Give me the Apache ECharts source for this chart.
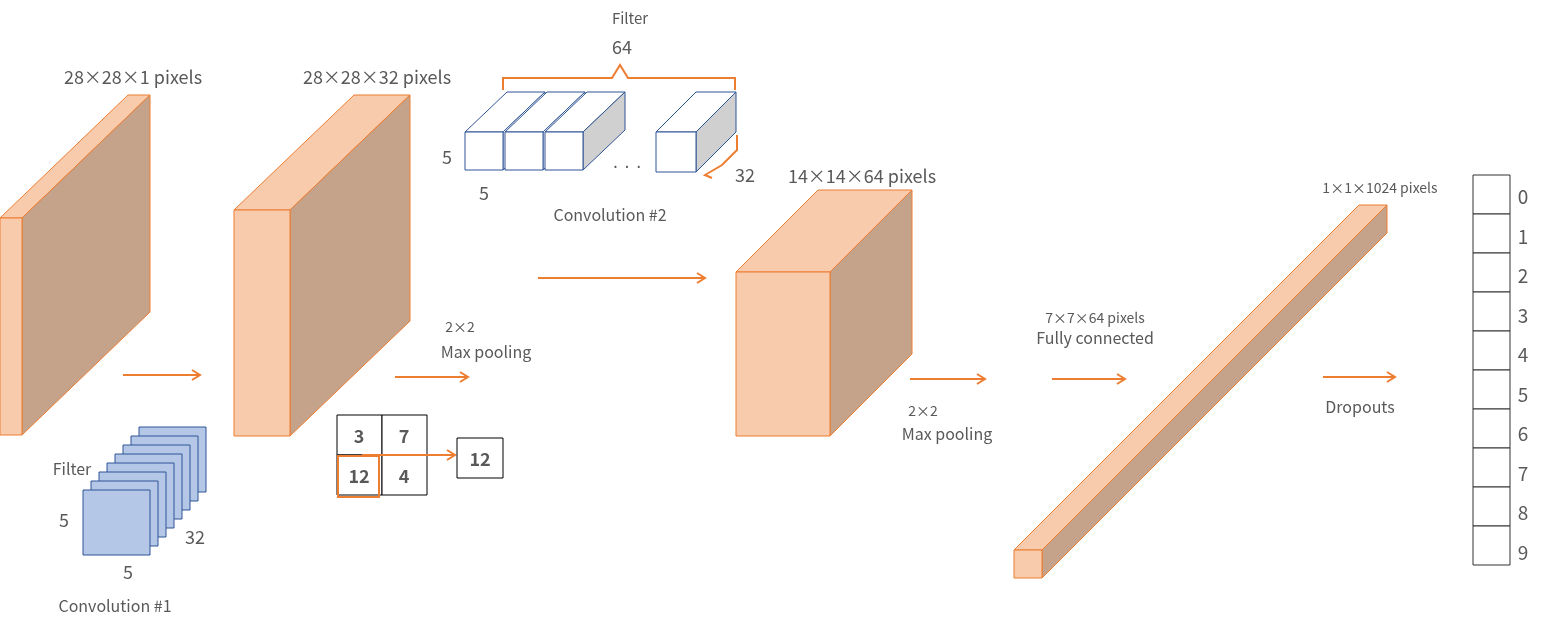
<!DOCTYPE html>
<html>
<head>
<meta charset="utf-8">
<script src="https://cdn.jsdelivr.net/npm/echarts@6/dist/echarts.min.js"></script>
<style>html,body{margin:0;background:#fff}#main{width:1548px;height:629px}</style>
</head>
<body>
<div id="main"></div>
<script>
// data
var outputDigits = ['0','1','2','3','4','5','6','7','8','9'];
var poolValues = ['3','7','12','4'];
var poolMax = '12';
var layerLabels = ['28×28×1 pixels','28×28×32 pixels','14×14×64 pixels','1×1×1024 pixels'];
var filterCount1 = 8;

var ORANGE = '#ed7d31', FRONT = '#f8cbad', SIDE = '#c5a38b', TXT = '#595959';
var FONT = '"Noto Sans CJK KR", "Noto Sans", sans-serif';
var els = [];

function box(x, y, w, h, dx, dy) {
    els.push({type:'polygon', shape:{points:[[x,y],[x+dx,y+dy],[x+w+dx,y+dy],[x+w,y]]}, style:{fill:FRONT, stroke:ORANGE, lineWidth:1}});
    els.push({type:'polygon', shape:{points:[[x+w,y],[x+w+dx,y+dy],[x+w+dx,y+h+dy],[x+w,y+h]]}, style:{fill:SIDE, stroke:ORANGE, lineWidth:1}});
    els.push({type:'rect', shape:{x:x, y:y, width:w, height:h}, style:{fill:FRONT, stroke:ORANGE, lineWidth:1}});
}
function arrow(x1, y, x2) {
    els.push({type:'line', shape:{x1:x1, y1:y, x2:x2, y2:y}, style:{stroke:ORANGE, lineWidth:2}});
    els.push({type:'polyline', shape:{points:[[x2-8,y-5],[x2,y],[x2-8,y+5]]}, style:{stroke:ORANGE, lineWidth:2, fill:null}});
}
function text(s, x, y, size, opt) {
    els.push({type:'text', x:x, y:y, style:Object.assign({text:s, fill:TXT, font:(size||17)+'px '+FONT, align:'center', verticalAlign:'middle'}, opt||{})});
}
function cube(x, y, s, dx, dy, gray) {
    els.push({type:'polygon', shape:{points:[[x,y],[x+dx,y+dy],[x+s+dx,y+dy],[x+s,y]]}, style:{fill:'#fff', stroke:'#2f5597', lineWidth:1}});
    els.push({type:'polygon', shape:{points:[[x+s,y],[x+s+dx,y+dy],[x+s+dx,y+s+dy],[x+s,y+s]]}, style:{fill:gray?'#d0d0d0':'#fff', stroke:'#2f5597', lineWidth:1}});
    els.push({type:'rect', shape:{x:x, y:y, width:s, height:s}, style:{fill:'#fff', stroke:'#2f5597', lineWidth:1}});
}

// layers
box(0, 218, 22, 217, 128, -123);
box(234, 210, 56, 226, 120, -115);
box(736, 272, 94, 164, 82, -82);
box(1014, 550, 28, 28, 345, -345);
text(layerLabels[0], 133, 77, 18);
text(layerLabels[1], 377, 77, 18);
text(layerLabels[2], 862, 176, 18);
text(layerLabels[3], 1380, 188, 14);

// filter stack #1
for (var i = filterCount1 - 1; i >= 0; i--) {
    els.push({type:'rect', shape:{x:83 + i*8, y:490 - i*9, width:67, height:65}, style:{fill:'#b4c7e7', stroke:'#2f5597', lineWidth:1}});
}
text('Filter', 72, 469, 16);
text('5', 64, 520, 18);
text('5', 128, 572, 18);
text('32', 195, 537, 18);
text('Convolution #1', 115, 606, 16);

// filter cubes #2
cube(465, 132, 38, 42, -40, false);
cube(505, 132, 38, 42, -40, false);
cube(545, 132, 38, 42, -40, true);
cube(656, 132, 40, 40, -40, true);
text('.  .  .', 627, 162, 16);
els.push({type:'polyline', shape:{points:[[503,90],[503,78],[612,78],[620,65],[628,78],[735,78],[735,90]]}, style:{stroke:ORANGE, lineWidth:2, fill:null}});
els.push({type:'polyline', shape:{points:[[737,135],[737,150],[722,165],[705,175],[712,178]]}, style:{stroke:ORANGE, lineWidth:2, fill:null}});
text('Filter', 630, 18, 15);
text('64', 622, 47, 18);
text('5', 447, 157, 18);
text('5', 484, 193, 18);
text('32', 745, 175, 18);
text('Convolution #2', 610, 215, 16);

// pooling example
for (var k = 0; k < 4; k++) {
    var cx = 337 + (k % 2) * 45, cy = 415 + Math.floor(k / 2) * 40;
    els.push({type:'rect', shape:{x:cx, y:cy, width:45, height:40}, style:{fill:'#fff', stroke:'#000', lineWidth:1}});
    text(poolValues[k], cx + 22, cy + 21, 18, {font:'bold 18px ' + FONT});
}
els.push({type:'rect', shape:{x:338, y:456, width:41, height:41}, style:{fill:null, stroke:ORANGE, lineWidth:2}});
arrow(362, 455, 455);
els.push({type:'rect', shape:{x:457, y:438, width:46, height:40}, style:{fill:'#fff', stroke:'#000', lineWidth:1}});
text(poolMax, 480, 459, 18, {font:'bold 18px ' + FONT});

// arrows
arrow(123, 375, 200);
arrow(395, 377, 468);
arrow(538, 278, 705);
arrow(910, 379, 985);
arrow(1052, 379, 1125);
arrow(1323, 377, 1395);
text('2×2', 460, 327, 14);
text('Max pooling', 486, 352, 16);
text('2×2', 923, 411, 14);
text('Max pooling', 947, 434, 16);
text('7×7×64 pixels', 1095, 318, 14);
text('Fully connected', 1095, 338, 16);
text('Dropouts', 1360, 407, 16);

// output column
outputDigits.forEach(function (d, j) {
    els.push({type:'rect', shape:{x:1473, y:175 + j*39, width:37, height:39}, style:{fill:'#fff', stroke:'#333', lineWidth:1}});
    text(d, 1523, 197 + j*39.5, 19);
});

var chart = echarts.init(document.getElementById('main'));
chart.setOption({backgroundColor:'#fff', graphic:{elements:els}});
</script>
</body>
</html>
